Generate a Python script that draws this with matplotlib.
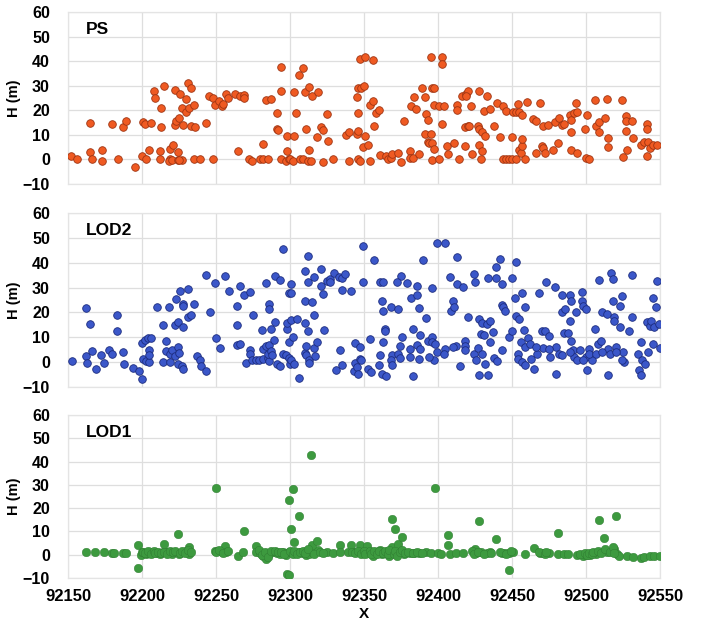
import matplotlib
matplotlib.use("Agg")
import matplotlib.pyplot as plt

plt.rcParams['font.family'] = ['Liberation Sans', 'DejaVu Sans']

# ---------------- data ----------------
ps_x = [92152.3, 92156, 92165, 92165, 92166, 92173, 92173, 92180, 92184, 92187, 92189, 92195, 92200, 92201,
        92202, 92203, 92205, 92206, 92208, 92209, 92212, 92212, 92213, 92213, 92215, 92219, 92219, 92221,
        92222, 92222, 92223, 92224, 92225, 92226, 92227, 92227, 92228, 92230, 92230, 92231, 92232, 92233,
        92233, 92235, 92236, 92235, 92239, 92243, 92248, 92245, 92248, 92249, 92252, 92254, 92255, 92257,
        92258, 92263, 92265, 92266, 92269, 92269, 92272, 92274, 92280, 92282, 92285, 92282, 92284, 92287,
        92291, 92291, 92292, 92294, 92294, 92294, 92297, 92298, 92298, 92299, 92300, 92302, 92303, 92303,
        92304, 92306, 92307, 92309, 92309, 92310, 92311, 92312, 92314, 92313, 92313, 92315, 92318, 92319,
        92321, 92322, 92322, 92325, 92326, 92329, 92338, 92340, 92340, 92345, 92345, 92346, 92346, 92346,
        92346, 92218, 92220, 92224, 92225,
        92347, 92354, 92348, 92350, 92347, 92351, 92356, 92349, 92353, 92351, 92354, 92356, 92358, 92360,
        92357, 92361, 92365, 92366, 92368, 92369, 92373, 92375, 92377, 92381, 92381, 92383, 92387, 92382,
        92385, 92384, 92389, 92391, 92392, 92393, 92391, 92395, 92395, 92396, 92397, 92397, 92401, 92404,
        92393, 92394, 92396, 92397, 92396, 92401, 92403, 92403, 92403, 92406, 92407, 92411, 92413, 92413,
        92414, 92416, 92419, 92420, 92419, 92418, 92418, 92420, 92421, 92422, 92423, 92427, 92428, 92430,
        92432, 92428, 92428, 92430, 92429, 92431, 92435, 92433, 92438, 92440, 92442, 92444, 92446, 92448,
        92450, 92453, 92444, 92446, 92450, 92451, 92453, 92455, 92457, 92454, 92455, 92456, 92457, 92459,
        92457, 92460, 92464, 92466, 92466, 92469, 92470, 92471, 92472, 92471, 92474, 92479, 92482, 92478,
        92481, 92484, 92485, 92489, 92490, 92492, 92494, 92490, 92490, 92494, 92493, 92499, 92500, 92502,
        92501, 92506, 92507, 92509, 92513, 92509, 92514, 92515, 92515, 92524, 92525, 92527, 92527, 92531,
        92527, 92528, 92532, 92537, 92539, 92541, 92541, 92541, 92542, 92543, 92545, 92548]
ps_y = [1.4, 0, 15, 3, 0, 4, -0.5, 14.6, 0, 13, 15.7, -3, 1.4, 15.4,
        14.6, 0, 3.8, 15, 27.7, 25, 3.6, 0, 21, 13.2, 30, 4.3, 0, 6,
        28.4, 14.2, 15.5, 3.2, 16.9, 26.8, 21, -0.3, 14, 24.6, 19.2, 31, 21, 29,
        13.8, 22.3, 13, 0.3, 0, 14.9, 0, 26, 25, 22, 23.6, 21.6, 22.7, 26.8,
        25, 26.6, 3.4, 25.7, 26.4, 25, 0, -0.7, 0, 0, 0, 6.4, 24, 24.6,
        19, 12.4, 12, 27.7, 37.8, 0, -0.5, 3.4, 9.5, 0, 0, -0.5, 9.5, 27.3,
        19, 34.5, 0, 0, 37.4, 27.6, 12.2, -0.7, -0.7, 29.5, 3.8, 26, 9, 27.6,
        13.2, 11.8, -1, 18.5, 7.3, 0, 9.9, 11, -0.8, 25.5, 10.5, 11.5, 19, 29,
        0, -0.5, -0.3, -0.3, -0.3,
        -0.5, -0.5, 29, 30, 41, 41.6, 40.6, 5, 6, 9.5, 22.3, 23.6, 19, 20,
        13.5, 1.9, 1.4, 0, 0.7, 2.4, 2.7, -1, 15.5, 3.4, 0.5, 0.7, 2.4, 21.9,
        20.5, 25.3, 29.2, 25.5, 18.6, 16, 10.5, 10.5, 41.6, 29, 29, 22, 21.6, 21.6,
        7, 6.5, 6.8, 4.3, -0.3, 0, 41.6, 39, 14.6, 5.4, 2.4, 6.5, 22.3, 20.3,
        0, 25.7, 26.6, 27.7, 25.7, 5.4, 13.1, 13.5, 13.8, 21.6, 2.4, 13.8, 12.2, 11,
        9.5, 28, 6, 3.4, 0.3, 19.6, 20.5, 25.7, 13.5, 23, 9.2, 0, 0, 0,
        0, 0, 21.6, 19.6, 9.2, 19.2, 19.2, 19.2, 18.2, 22.6, 4, 2.7, 5.4, 0.3,
        8.4, 23.5, 16.6, 15.5, 2.7, 22.8, 5.4, 4.7, 2.7, 13.8, 14, 15.3, 16.9, 4,
        6.8, 14.2, 14.3, 18.2, 16, 18.9, 19.5, 11, 3.8, 2.7, 22.9, 12.2, 0.7, 0.3,
        18.2, 24, 13.5, 15.1, 16.9, 11, 24.6, 8.8, 5, 24.3, 0.8, 17.8, 15.5, 15.5,
        11.5, 3.8, 8.8, 5.7, 7, 1.4, 14.6, 12.2, 7, 4.7, 5.7, 5.9]

lod2_x = [92153, 92162, 92162, 92163, 92165, 92166, 92169, 92172, 92174, 92178, 92180, 92183, 92183, 92187,
          92188, 92194, 92198, 92200, 92200, 92202, 92204, 92206, 92201, 92203, 92205, 92205, 92205, 92210,
          92214, 92214, 92216, 92216, 92218, 92219, 92219, 92220, 92222, 92222, 92223, 92224, 92224, 92225,
          92224, 92227, 92228, 92226, 92228, 92228, 92228, 92231, 92231, 92233, 92235, 92237, 92239, 92240,
          92243, 92243, 92246, 92249, 92250, 92253, 92256, 92259, 92264, 92264, 92264, 92266, 92266, 92269,
          92273, 92270, 92273, 92273, 92274, 92277, 92279, 92282, 92285, 92286, 92275, 92281, 92282, 92284,
          92285, 92286, 92287, 92288, 92284, 92286, 92286, 92287, 92289, 92290, 92293, 92290, 92291, 92293,
          92295, 92295, 92297, 92298, 92298, 92299, 92299, 92300, 92301, 92299, 92301, 92301, 92301, 92302,
          92303, 92305, 92306, 92310, 92310, 92310, 92311, 92311, 92312, 92312, 92313, 92313, 92310, 92312,
          92315, 92316, 92316, 92316, 92318, 92317, 92321, 92321, 92322, 92323, 92325, 92327, 92327, 92330,
          92333, 92335, 92337, 92335, 92341, 92331, 92335, 92334, 92343, 92344, 92344, 92345, 92346, 92347,
          92349, 92349, 92347, 92348, 92354, 92357, 92353, 92355, 92360, 92361, 92362, 92365, 92363, 92361,
          92363, 92362, 92363, 92364, 92364, 92368, 92373, 92369, 92368, 92369, 92373, 92374, 92374, 92375,
          92376, 92372, 92379, 92381, 92382, 92381, 92383, 92383, 92386, 92386, 92387, 92388, 92387, 92386,
          92390, 92392, 92393, 92396, 92396, 92396, 92397, 92399, 92399, 92398, 92405, 92405, 92408, 92410,
          92409, 92411, 92412, 92413, 92413, 92415, 92418, 92418, 92417, 92420, 92424, 92425, 92424, 92426,
          92427, 92428, 92428, 92429, 92430, 92430, 92431, 92432, 92433, 92434, 92434, 92435, 92435, 92437,
          92438, 92439, 92439, 92440, 92442, 92443, 92443, 92443, 92444, 92445, 92448, 92450, 92450, 92452,
          92453, 92453, 92454, 92455, 92456, 92457, 92458, 92459, 92459, 92461, 92462, 92454, 92457, 92459,
          92463, 92465, 92467, 92468, 92470, 92471, 92472, 92473, 92475, 92476, 92479, 92480, 92480, 92482,
          92484, 92484, 92485, 92486, 92488, 92489, 92489, 92490, 92490, 92491, 92492, 92493, 92494, 92496,
          92497, 92497, 92498, 92500, 92500, 92501, 92502, 92504, 92506, 92508, 92509, 92510, 92511, 92514,
          92515, 92515, 92517, 92518, 92518, 92519, 92519, 92520, 92523, 92523, 92524, 92525, 92526, 92529,
          92531, 92531, 92535, 92536, 92537, 92537, 92538, 92540, 92541, 92542, 92543, 92544, 92545, 92545,
          92546, 92547, 92548, 92549, 92550,
          92466, 92475, 92484, 92489, 92498, 92502, 92507, 92511, 92516, 92520, 92524,
          92388, 92394, 92404, 92410, 92418]
lod2_y = [0.3, 21.6, 2.3, -0.3, 15.4, 4.3, -2.8, 3, -0.4, 5, 3.1, 19.1, 12.4, 3.9,
          -0.7, -2.4, -3.4, -6.9, 7.7, 9, 9.8, 9.7, 1.2, 0.4, 0.1, 4.7, 2.7, 22,
          15, -0.1, 8.4, 4.4, 22, 0, 3.1, 5, 2.4, 14.8, 25.5, 16.3, 6, 3.6,
          -0.7, -1.6, -2.7, 28.6, 14.2, 23.6, 22.5, 29.4, 18.2, 18.9, 23.3, 2.4, 0.7, -1.6,
          -3.4, 34.9, 20.2, 31.7, 9.8, 5.8, 34.5, 28.7, 22.5, 14.8, 7, 7.4, 30.7, 27,
          28.3, -0.3, 5, 3.4, 0.7, 0.7, 0.7, 1.2, 1.8, 0.4, 18.9, 12.8, 5.4, 6.3,
          3.4, 7.1, 4.4, 2.7, 31.7, 23.6, 21.3, 13.5, 8.8, 34.8, 33.2, 16.2, -0.7, -1.6,
          45.5, 3.4, 3, 13.2, 15.9, 28, 1.6, -0.7, 0.7, 8.1, 17.1, 31.4, 27.8, 10.1,
          -0.7, 17.5, -6.5, 3.8, 15.8, 24.5, 6.5, 2.7, 42.7, 12.4, 0.7, -0.4, 36.7, 32.1,
          24.3, 19.1, 34.4, 5.7, 8.1, 2.4, 30.6, 37.5, 27.6, 13.1, 32.6, 33.6, 32.1, 35.9,
          34.1, 33.7, 35.3, 29.2, 28.7, -3, -1.1, 4.7, -3.4, -0.3, 7.7, -2, -4.7, 6,
          46.7, 32.4, 1.3, 0.9, 9.3, 41.3, -2.7, -4, -1.3, 2.7, -4.7, -5.6, 8, 32.4,
          32.3, 24.7, 20.7, 13.3, 12.4, 22, 21.3, 2.7, 0.9, -1.3, 3.1, 6.7, 1.7, 34.7,
          10.3, 32.3, 31.9, 5.3, 26, 2, 13.3, -5.7, 30.7, 26.9, 21.7, 10.9, 1.3, 7.1,
          41.2, 17.6, 8.7, 30, 10, 8, 0.7, 3.9, 48, 7.3, 48, 5.3, 34.3, 24.7,
          20.7, 22, 6.5, 42.3, 31.3, -1.6, 8.7, 6.7, 30.3, 18, 35.6, 32.3, 3.1, 0.9,
          5.7, 17.3, -5.3, 11.3, 3.3, 15.6, 11.1, -0.7, 15.3, 34, -5.3, 16.7, 8, 12,
          1.7, 34, 38.4, 0.4, 41.7, 4.7, 31.6, 23.1, 22, 20.7, 10, 12.7, 33.7, 26,
          40.3, 18.7, 3.3, 17.3, 8, 28, 12.9, 22, 6, 9.6, 7.3, 1.3, 0, -1.3,
          1.3, -2.7, 3.3, 28, 12.7, 5.7, 12.7, 32.4, 10.7, 2, 30.3, -4.7, 6, 3.3,
          27.1, 20, 11.6, 21.3, 11.7, 16.7, 27.1, 24.7, 8.7, 4.7, 2, 20, 0.7, 4.7,
          28.4, 24.7, 22.7, 21.3, 2, -3.3, 5.3, 0.7, 13.3, 7.3, 33.1, 8.7, 20, 19.3,
          5.3, -5.3, 35.7, 24.7, 33.3, 18, 16.7, 6, 14.3, 22.7, 26.7, 4, 0, 12.4,
          35, 18, 3.3, -3.3, -5.3, 8, 0.7, -0.7, 16, 4, 14.7, 16.7, 26, 7.3,
          14, 22.3, 32.7, 15.3, 5.6,
          6, 5.3, 2.7, 4, 0.9, 3.3, 3.3, 4, 3.3, 4, 0.7,
          5.3, 2, 3.3, 6, 4.7]

lod1_x = [92162, 92168, 92174, 92180, 92181, 92187, 92189, 92197, 92197, 92199, 92200, 92203, 92205, 92207,
          92210, 92212, 92214, 92216, 92218, 92219, 92220, 92215, 92224, 92225, 92228, 92230, 92232, 92232,
          92250, 92249, 92251, 92254, 92256, 92257, 92265, 92268, 92269, 92277, 92277, 92280, 92282, 92284,
          92286, 92289, 92291, 92293, 92295, 92297, 92297, 92298, 92299, 92299, 92301, 92302, 92303, 92306,
          92299, 92301, 92304, 92306, 92308, 92311, 92313, 92315, 92317, 92319, 92314, 92315, 92318, 92325,
          92329, 92334, 92334, 92339, 92341, 92343, 92347,
          92342, 92349, 92352, 92353, 92356, 92358, 92361, 92362, 92365, 92367, 92368, 92369, 92369, 92371,
          92373, 92375, 92376, 92377, 92381, 92384, 92387, 92392, 92395, 92398, 92400, 92402, 92407, 92407,
          92408, 92412, 92417, 92425, 92426, 92428, 92429, 92433, 92435, 92439, 92443, 92445, 92448, 92448,
          92451, 92459, 92465, 92469, 92471, 92475, 92481, 92481, 92485, 92488, 92494, 92498, 92500, 92503,
          92507, 92509, 92512, 92512, 92514, 92519, 92520, 92521, 92522, 92528, 92532, 92537, 92539, 92543,
          92546, 92550,
          92201, 92202, 92204, 92206, 92208, 92209, 92211, 92213, 92215, 92217, 92219, 92221, 92222,
          92226, 92227, 92229, 92231, 92233, 92250, 92252, 92255, 92258,
          92279, 92281, 92283, 92285, 92287, 92290, 92292, 92294, 92296, 92300, 92302, 92303, 92305, 92307,
          92309, 92310, 92312, 92316, 92320, 92322,
          92344, 92346, 92348, 92350, 92351, 92354, 92355, 92357, 92359, 92360, 92363, 92364, 92366, 92367,
          92370, 92371, 92372, 92374, 92376, 92378, 92380, 92383, 92386, 92389,
          92423, 92424, 92427, 92431, 92436, 92442, 92446, 92449,
          92468, 92472, 92473, 92496, 92499, 92501, 92502, 92504, 92505, 92508, 92510, 92513, 92516, 92518, 92519]
lod1_y = [1, 1, 1, 0.7, 0.6, 0.6, 0.6, 4.3, -5.5, 0, 1, 0.3, 0.6, 1,
          0.7, 0.3, 1, 1, 1, 0.6, 0.3, 4.6, 8.9, 0.3, 1, 1.7, 3.2, 0.3,
          28.8, 1.7, 1.4, 1, 3.9, 1, -0.4, 1, 10.4, 3.9, 1, 0.6, -0.4, -1.9,
          0.3, 1, 0.6, 0.3, 1, 0.6, 0, -8.3, -8.6, 23.3, 11.1, 28.3, 5.3, 16.8,
          1, 1, 0.6, 1, 0.6, 0, 0.3, 1, 1.7, 2, 42.7, 4.3, 5.8, 1,
          0.6, 4.3, 1, 1, 4.3, 1, 4.3,
          1, 1, 3.9, 0.6, -0.4, 1, 2, 0.3, 1, -0.4, 1, 3.2, 15.4, 11.1,
          4.6, 1, 7.8, 0.3, 0.6, 0.6, 0.6, 1, 0.6, 28.8, 0.6, 0.3, 8.6, 4.3,
          0.3, 0.6, 0.6, 2.4, 0.6, 14.4, 1, 0.6, 1, 6.8, 0.6, 0.6, -6.6, 0.6,
          1, 0.3, 2.9, 0.6, 0.6, 0.6, 9.2, 0.3, 0.3, 0.3, 0, -0.4, 0, 0,
          0.3, 15, 7.2, 1.7, 1, 2.4, 16.8, 0.3, -0.4, -0.4, -0.9, -1.2, -0.9, -0.6,
          -0.4, -0.7,
          1.2, 0.8, 1.4, 0.5, 1.5, 0.8, 1.2, 0.6, 1.3, 0.5, 1.5, 1, 1.6,
          0.8, 1.5, 0.6, 2.2, 1.2, 1, 2, 0.6, 1.8,
          2, 0, 1.2, -0.8, 1.5, 1.8, 1, 1.3, 0.4, 1.5, 0.2, 1.8, 0.4, 1.3,
          1.6, 0.8, 2.5, 0.5, 1.2, 0.6,
          0.8, 1.5, 0.2, 1.8, 0.5, 1.5, 0.3, 1.4, 0.2, 1.8, 0.6, 1.5, 0.2, 2,
          0.5, 1.8, -0.5, 1.2, 2.2, 0.8, 1.2, 0.9, 1.2, 0.8,
          1.5, 0.5, 1.2, 0.5, 0.8, 1.2, 0.2, 1.4,
          1.3, 0.2, 1, 0.4, 0.8, -0.3, 0.8, 0.5, 1.2, 1.5, 0.6, 2.5, 1.2, 3.3, 0.8]

panel_labels = ["PS", "LOD2", "LOD1"]
y_ticks = [-10, 0, 10, 20, 30, 40, 50, 60]
x_ticks = [92150, 92200, 92250, 92300, 92350, 92400, 92450, 92500, 92550]

# ---------------- figure ----------------
fig = plt.figure(figsize=(7.09, 6.22), dpi=100)
left, width = 0.0959, 0.835
rects = [(left, 0.7042, width, 0.2765),
         (left, 0.3778, width, 0.2797),
         (left, 0.0707, width, 0.2621)]

series = [(ps_x, ps_y, "#ef5a22", "#9e3412", 30, 0.6),
          (lod2_x, lod2_y, "#3b57c9", "#1c2c7e", 30, 0.6),
          (lod1_x, lod1_y, "#3d9a3f", "#2e7a30", 38, 0.3)]

for i, (rect, (xs, ys, fc, ec, ms, lw), lab) in enumerate(zip(rects, series, panel_labels)):
    ax = fig.add_axes(rect)
    ax.set_xlim(92150, 92550)
    ax.set_ylim(-10, 60)
    ax.set_xticks(x_ticks)
    ax.set_yticks(y_ticks)
    ax.grid(True, color="#dedede", linewidth=0.9)
    ax.set_axisbelow(True)
    for s in ax.spines.values():
        s.set_color("#e4e4e4")
        s.set_linewidth(0.9)
    ax.tick_params(length=0, pad=13)
    for t in ax.get_yticklabels():
        t.set_fontweight("bold")
        t.set_fontsize(11.5)
    if i < 2:
        ax.set_xticklabels([])
    else:
        ax.tick_params(axis='x', pad=8)
        for t in ax.get_xticklabels():
            t.set_fontweight("bold")
            t.set_fontsize(12)
        ax.set_xlabel("X", fontsize=11, fontweight="bold", labelpad=2)
    ax.scatter(xs, ys, s=ms, c=fc, edgecolors=ec, linewidths=lw, zorder=3)
    ax.set_ylabel("H (m)", fontsize=10.5, fontweight="bold", labelpad=1)
    ax.text(0.03, 0.94, lab, transform=ax.transAxes, fontsize=12.5,
            fontweight="bold", va="top", ha="left")

fig.savefig("out.png", dpi=100)
